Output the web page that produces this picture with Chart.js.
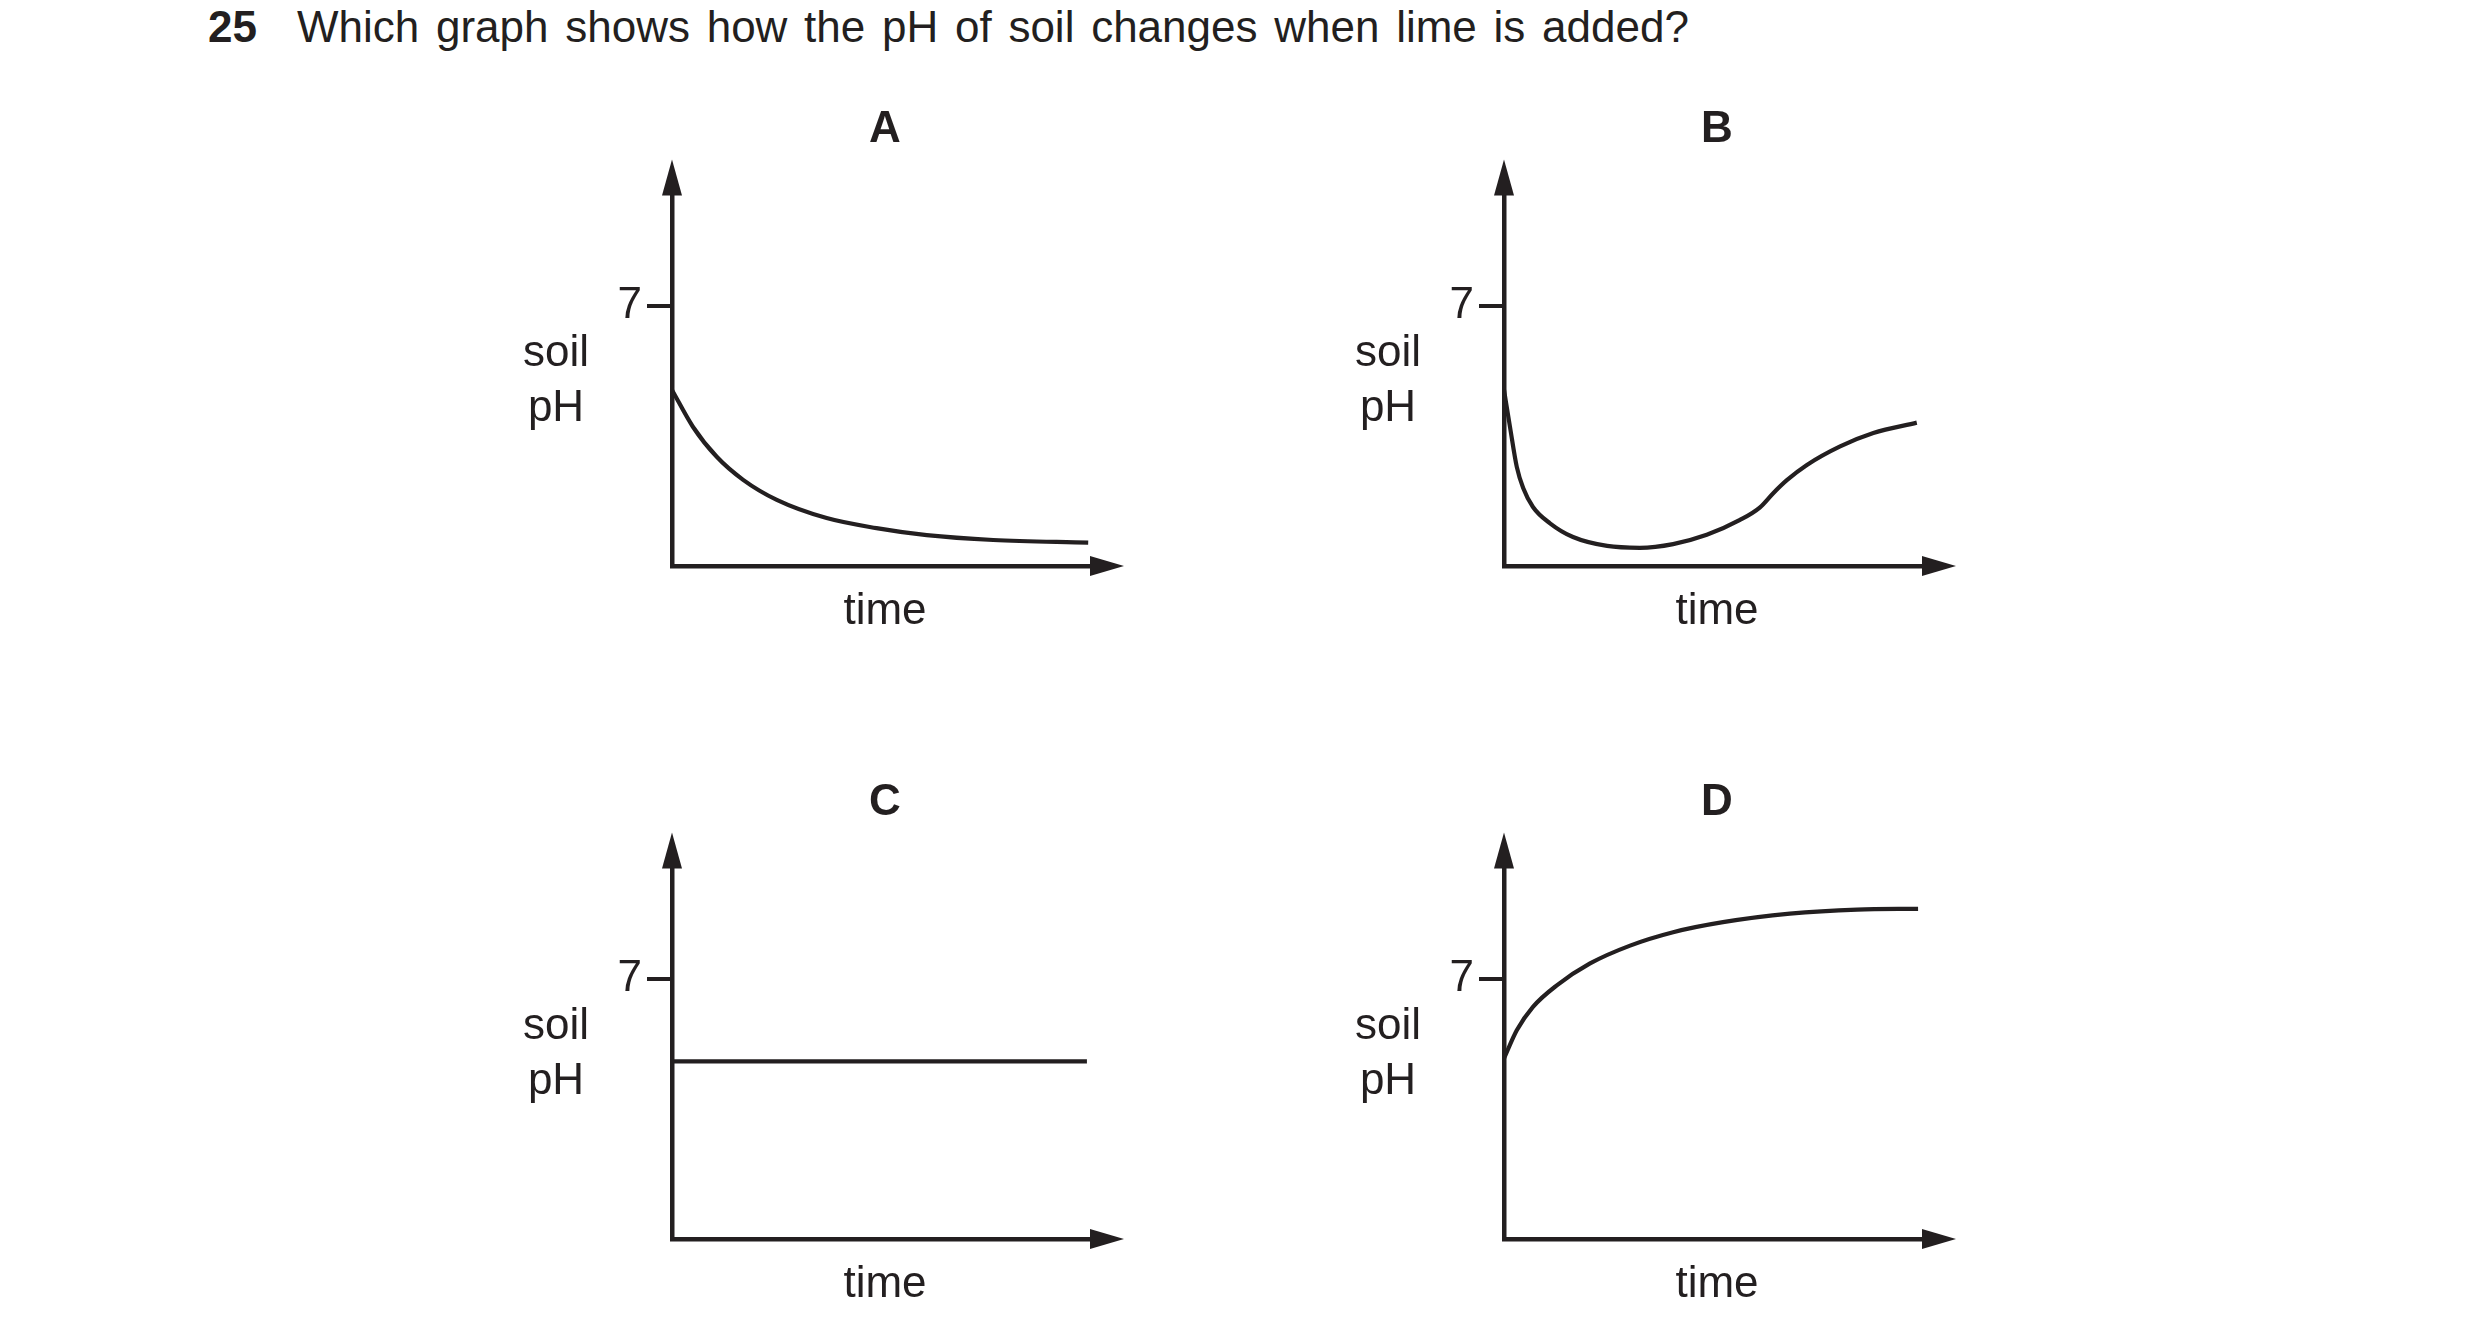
<!DOCTYPE html>
<html>
<head>
<meta charset="utf-8">
<script src="https://cdn.jsdelivr.net/npm/chart.js@4.4.1/dist/chart.umd.min.js"></script>
<style>
  html, body { margin: 0; padding: 0; background: #ffffff; }
  body { width: 2480px; height: 1340px; position: relative; overflow: hidden; font-family: "Liberation Sans", Arial, sans-serif; color: #231f20; }
  .q { position: absolute; top: 5px; font-size: 44px; line-height: 44px; white-space: nowrap; }
  #qnum { left: 208px; font-weight: bold; }
  #qtext { left: 297px; word-spacing: 4.5px; }
  canvas { position: absolute; }
</style>
</head>
<body>
<div class="q" id="qnum">25</div>
<div class="q" id="qtext">Which graph shows how the pH of soil changes when lime is added?</div>
<canvas id="cA" width="810" height="540" style="left:480px;top:100px;width:810px;height:540px"></canvas>
<canvas id="cB" width="810" height="540" style="left:1312px;top:100px;width:810px;height:540px"></canvas>
<canvas id="cC" width="810" height="540" style="left:480px;top:773px;width:810px;height:540px"></canvas>
<canvas id="cD" width="810" height="540" style="left:1312px;top:773px;width:810px;height:540px"></canvas>
<script>
// ---- data ----
const panelLetters = ['A', 'B', 'C', 'D'];
const xAxisTitle = 'time';
const yAxisTitle = ['soil', 'pH'];
const yTickValues = [7];

const timeA = [0, 0.49, 1.05, 1.67, 2.46, 3.63, 4.80, 5.98, 7.54, 9.77];
const phA   = [4.74, 3.75, 2.94, 2.32, 1.78, 1.29, 1.02, 0.83, 0.70, 0.63];

const timeB = [0, 0.14, 0.30, 0.45, 0.68, 1.08, 1.62, 2.42, 3.19, 3.97, 4.76, 5.54, 6.01, 6.32, 6.64, 7.11, 7.89, 8.67, 9.69];
const phB   = [4.74, 3.75, 2.67, 2.10, 1.59, 1.15, 0.78, 0.54, 0.49, 0.59, 0.84, 1.24, 1.58, 1.96, 2.31, 2.72, 3.22, 3.58, 3.86];

const timeC = [0, 9.74];
const phC   = [4.78, 4.78];

const timeD = [0, 0.30, 0.68, 1.24, 2.02, 2.96, 3.97, 5.14, 6.71, 8.29, 9.72];
const phD   = [4.86, 5.62, 6.25, 6.83, 7.42, 7.90, 8.26, 8.53, 8.76, 8.87, 8.89];

// ---- styling ----
const INK = '#231f20';
const FONT = '"Liberation Sans", Arial, sans-serif';
Chart.defaults.font.family = FONT;
Chart.defaults.color = INK;

const axisDecor = {
  id: 'axisDecor',
  afterDraw(chart) {
    const {ctx, chartArea: a} = chart;
    ctx.save();
    ctx.fillStyle = INK;
    // up arrow on y axis
    ctx.beginPath();
    ctx.moveTo(a.left, a.top - 35);
    ctx.lineTo(a.left - 10, a.top + 1);
    ctx.lineTo(a.left + 10, a.top + 1);
    ctx.closePath();
    ctx.fill();
    // right arrow on x axis
    ctx.beginPath();
    ctx.moveTo(a.right + 26, a.bottom);
    ctx.lineTo(a.right - 8, a.bottom - 10);
    ctx.lineTo(a.right - 8, a.bottom + 10);
    ctx.closePath();
    ctx.fill();
    // horizontal y-axis caption
    ctx.font = '44px ' + FONT;
    ctx.textAlign = 'center';
    ctx.textBaseline = 'alphabetic';
    ctx.fillText(yAxisTitle[0], a.left - 116, a.bottom - 200);
    ctx.fillText(yAxisTitle[1], a.left - 116, a.bottom - 145);
    ctx.restore();
  }
};

function makeChart(id, letter, times, values) {
  const pts = times.map((t, i) => ({x: t, y: values[i]}));
  return new Chart(document.getElementById(id), {
    type: 'line',
    data: {
      datasets: [{
        data: pts,
        borderColor: INK,
        borderWidth: 4.2,
        pointRadius: 0,
        fill: false,
        cubicInterpolationMode: 'monotone',
        borderCapStyle: 'butt'
      }]
    },
    options: {
      responsive: false,
      animation: false,
      devicePixelRatio: 1,
      layout: { padding: { left: 0, right: 192, top: 0, bottom: 0 } },
      plugins: {
        legend: { display: false },
        tooltip: { enabled: false },
        title: {
          display: true,
          fullSize: false,
          text: letter,
          color: INK,
          font: { size: 44, weight: 'bold', lineHeight: 1.2 },
          padding: { top: 3.6, bottom: 38.2 }
        }
      },
      scales: {
        x: {
          type: 'linear',
          min: 0, max: 10,
          ticks: { display: false },
          grid: { display: false },
          border: { display: true, width: 4.5, color: INK },
          title: {
            display: true, text: xAxisTitle, color: INK,
            font: { size: 44, lineHeight: 1.2 },
            padding: { top: 0, bottom: 1.8 }
          },
          afterFit(s) { s.height = 74; }
        },
        y: {
          type: 'linear',
          min: 0, max: 10,
          afterBuildTicks(s) { s.ticks = yTickValues.map(v => ({value: v})); },
          ticks: { color: INK, font: { size: 44 }, padding: 5, callback: v => String(v) },
          grid: { display: true, drawOnChartArea: false, drawTicks: true, tickLength: 25, lineWidth: 4, color: INK },
          border: { display: true, width: 4.5, color: INK },
          afterFit(s) { s.width = 192; }
        }
      }
    },
    plugins: [axisDecor]
  });
}

makeChart('cA', panelLetters[0], timeA, phA);
makeChart('cB', panelLetters[1], timeB, phB);
makeChart('cC', panelLetters[2], timeC, phC);
makeChart('cD', panelLetters[3], timeD, phD);
</script>
</body>
</html>
